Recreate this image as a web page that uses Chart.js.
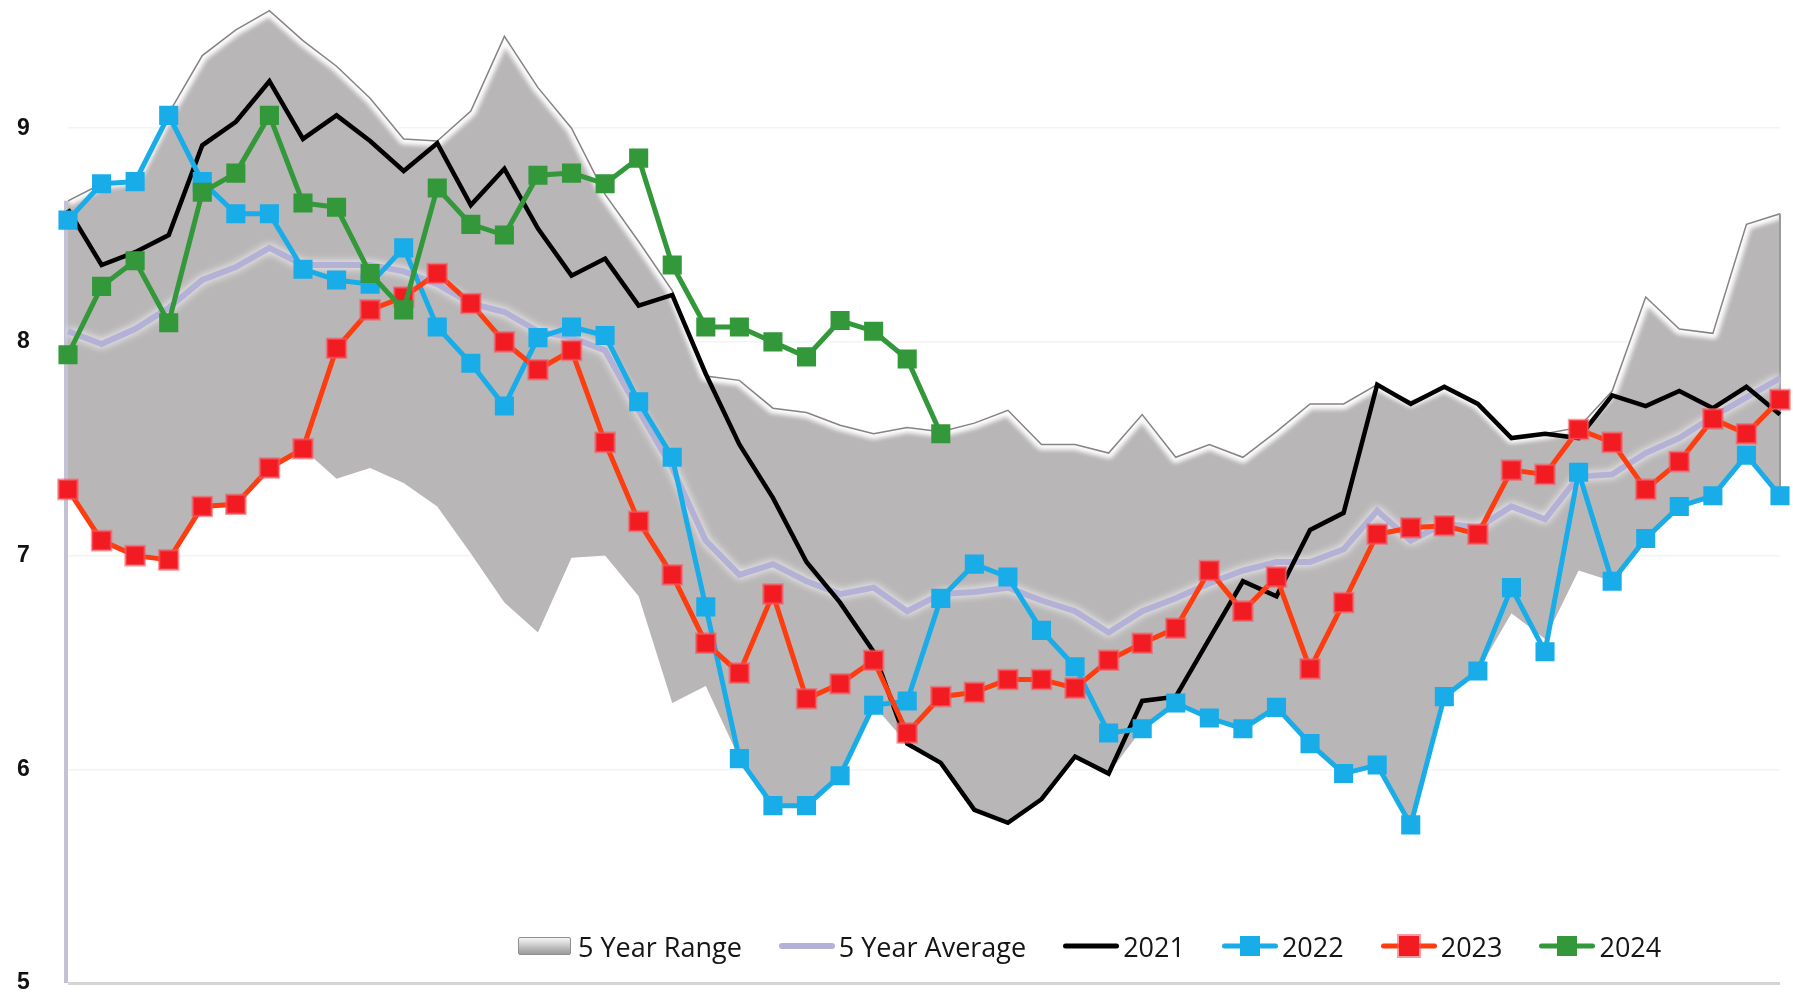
<!DOCTYPE html>
<html>
<head>
<meta charset="utf-8">
<script src="https://cdn.jsdelivr.net/npm/chart.js@4.4.1/dist/chart.umd.min.js"></script>
<style>
  html, body { margin: 0; padding: 0; background: #fff; }
  #wrap { position: relative; width: 1793px; height: 993px; overflow: hidden; }
  #legend {
    position: absolute; left: 518px; top: 926px; height: 40px;
    display: flex; align-items: center;
    font-family: 'Open Sans', sans-serif; font-size: 27px; color: #151515;
  }
  .item { display: flex; align-items: center; margin-right: 37px; }
  .sw { position: relative; width: 56px; height: 22px; margin-right: 4px; }
  .sw .ln { position: absolute; left: 0; right: 0; top: 50%; transform: translateY(-50%); border-radius: 3px; }
  .sw .mk { position: absolute; left: 50%; top: 50%; width: 20px; height: 20px; transform: translate(-50%, -50%); }
  .sw .box {
    position: absolute; left: 0; top: 2px; width: 53px; height: 18px; box-sizing: border-box;
    border: 1px solid #8f8f8f; border-radius: 2px;
    background: linear-gradient(#f4f4f4 0%, #d6d6d6 35%, #b3b3b3 70%, #9c9c9c 100%);
  }
</style>
</head>
<body>
<div id="wrap">
  <canvas id="chart"></canvas>
  <div id="legend"></div>
</div>
<script>
// weekly series, week 1..52
const weeks = [1, 2, 3, 4, 5, 6, 7, 8, 9, 10, 11, 12, 13, 14, 15, 16, 17, 18, 19, 20, 21, 22, 23, 24, 25, 26,
  27, 28, 29, 30, 31, 32, 33, 34, 35, 36, 37, 38, 39, 40, 41, 42, 43, 44, 45, 46, 47, 48, 49, 50, 51, 52];

const yTicks = [5, 6, 7, 8, 9];

const rangeLow = [7.31, 7.07, 7.00, 6.98, 7.23, 7.24, 7.41, 7.50, 7.36, 7.41, 7.34, 7.23, 7.01, 6.78, 6.64, 6.99,
  7.00, 6.81, 6.31, 6.39, 6.05, 5.83, 5.83, 5.97, 6.30, 6.12, 6.03, 5.81, 5.75, 5.86, 6.06, 5.98, 6.19, 6.31,
  6.24, 6.19, 6.29, 6.12, 5.98, 6.02, 5.74, 6.34, 6.46, 6.73, 6.61, 6.93, 6.88, 7.08, 7.23, 7.28, 7.47, 7.28];

const rangeHigh = [8.66, 8.74, 8.76, 9.07, 9.34, 9.46, 9.55, 9.41, 9.29, 9.14, 8.95, 8.94, 9.08, 9.43, 9.19, 9.00,
  8.69, 8.47, 8.24, 7.84, 7.82, 7.69, 7.67, 7.61, 7.57, 7.60, 7.58, 7.62, 7.68, 7.52, 7.52, 7.48, 7.66, 7.46,
  7.52, 7.46, 7.58, 7.71, 7.71, 7.80, 7.72, 7.79, 7.71, 7.55, 7.57, 7.60, 7.77, 8.21, 8.06, 8.04, 8.55, 8.60];

const avg5y = [8.05, 7.99, 8.06, 8.16, 8.29, 8.35, 8.44, 8.36, 8.36, 8.36, 8.33, 8.27, 8.18, 8.14, 8.05, 8.02,
  7.96, 7.68, 7.41, 7.07, 6.91, 6.96, 6.88, 6.82, 6.85, 6.74, 6.82, 6.83, 6.85, 6.79, 6.74, 6.64, 6.74, 6.80,
  6.87, 6.93, 6.97, 6.97, 7.03, 7.21, 7.07, 7.15, 7.13, 7.23, 7.17, 7.37, 7.38, 7.48, 7.55, 7.65, 7.74, 7.83];

const y2021 = [8.62, 8.36, 8.42, 8.50, 8.92, 9.03, 9.22, 8.95, 9.06, 8.94, 8.80, 8.93, 8.64, 8.81, 8.53, 8.31,
  8.39, 8.17, 8.22, 7.85, 7.52, 7.27, 6.97, 6.78, 6.55, 6.12, 6.03, 5.81, 5.75, 5.86, 6.06, 5.98, 6.32, 6.34,
  6.61, 6.88, 6.81, 7.12, 7.20, 7.80, 7.71, 7.79, 7.71, 7.55, 7.57, 7.55, 7.75, 7.70, 7.77, 7.69, 7.79, 7.66];

const y2022 = [8.57, 8.74, 8.75, 9.06, 8.75, 8.60, 8.60, 8.34, 8.29, 8.27, 8.44, 8.07, 7.90, 7.70, 8.02, 8.07,
  8.03, 7.72, 7.46, 6.76, 6.05, 5.83, 5.83, 5.97, 6.30, 6.32, 6.80, 6.96, 6.90, 6.65, 6.48, 6.17, 6.19, 6.31,
  6.24, 6.19, 6.29, 6.12, 5.98, 6.02, 5.74, 6.34, 6.46, 6.85, 6.55, 7.39, 6.88, 7.08, 7.23, 7.28, 7.47, 7.28];

const y2023 = [7.31, 7.07, 7.00, 6.98, 7.23, 7.24, 7.41, 7.50, 7.97, 8.15, 8.21, 8.32, 8.18, 8.00, 7.87, 7.96,
  7.53, 7.16, 6.91, 6.59, 6.45, 6.82, 6.33, 6.40, 6.51, 6.17, 6.34, 6.36, 6.42, 6.42, 6.38, 6.51, 6.59, 6.66,
  6.93, 6.74, 6.90, 6.47, 6.78, 7.10, 7.13, 7.14, 7.10, 7.40, 7.38, 7.59, 7.53, 7.31, 7.44, 7.64, 7.57, 7.73];

const y2024 = [7.94, 8.26, 8.38, 8.09, 8.70, 8.79, 9.06, 8.65, 8.63, 8.32, 8.15, 8.72, 8.55, 8.50, 8.78, 8.79,
  8.74, 8.86, 8.36, 8.07, 8.07, 8.00, 7.93, 8.10, 8.05, 7.92, 7.57];

const RANGE_FILL = '#b9b6b7';
const AVG_COLOR = '#b3b1d6';
const BLUE = '#18ade8';
const RED_LINE = '#fd3c0f';
const RED_MARK = '#f21b22';
const GREEN = '#33983a';

// bevel on the range band: soft white inner edge + thin dark outline along the top
const rangeBevel = {
  id: 'rangeBevel',
  afterDatasetDraw(chart, args) {
    if (args.index !== 1) return;
    const ctx = chart.ctx;
    const hi = chart.getDatasetMeta(1).data;
    const lo = chart.getDatasetMeta(0).data;
    const area = chart.chartArea;

    const topPath = () => {
      ctx.beginPath();
      hi.forEach((p, i) => i ? ctx.lineTo(p.x, p.y) : ctx.moveTo(p.x, p.y));
    };

    ctx.save();
    ctx.beginPath();
    hi.forEach((p, i) => i ? ctx.lineTo(p.x, p.y) : ctx.moveTo(p.x, p.y));
    for (let i = lo.length - 1; i >= 0; i--) ctx.lineTo(lo[i].x, lo[i].y);
    ctx.closePath();
    ctx.clip();
    ctx.filter = 'blur(2px)';
    topPath();
    ctx.strokeStyle = 'rgba(255,255,255,0.95)';
    ctx.lineWidth = 11;
    ctx.lineJoin = 'round';
    ctx.stroke();
    ctx.restore();

    ctx.save();
    topPath();
    ctx.strokeStyle = '#858384';
    ctx.lineWidth = 1.5;
    ctx.stroke();
    // left and right edges of the band
    ctx.beginPath();
    ctx.moveTo(hi[0].x - 2, hi[0].y);
    ctx.lineTo(hi[0].x - 2, area.bottom);
    ctx.strokeStyle = '#c3c2d5';
    ctx.lineWidth = 4;
    ctx.stroke();
    const last = hi.length - 1;
    ctx.beginPath();
    ctx.moveTo(hi[last].x, hi[last].y);
    ctx.lineTo(lo[last].x, lo[last].y);
    ctx.strokeStyle = '#9c9a9b';
    ctx.lineWidth = 2;
    ctx.stroke();
    ctx.restore();
  }
};

// white glow round the 5 year average line
const avgGlow = {
  id: 'avgGlow',
  beforeDatasetDraw(chart, args) {
    if (args.index !== 2) return;
    chart.ctx.save();
    chart.ctx.shadowColor = 'rgba(255,255,255,1)';
    chart.ctx.shadowBlur = 8;
  },
  afterDatasetDraw(chart, args) {
    if (args.index !== 2) return;
    chart.ctx.restore();
  }
};

const markerLine = (label, data, line, mark, border, order) => ({
  label, data, order,
  borderColor: line,
  borderWidth: 5,
  pointStyle: 'rect',
  pointRadius: 13.5,
  pointBackgroundColor: mark,
  pointBorderColor: border,
  pointBorderWidth: border === mark ? 0 : 2.5,
  fill: false,
  tension: 0
});

const chart = new Chart(document.getElementById('chart'), {
  type: 'line',
  data: {
    labels: weeks,
    datasets: [
      { label: 'low', data: rangeLow, borderWidth: 0, pointRadius: 0, fill: false, order: 10, inLegend: false },
      { label: '5 Year Range', data: rangeHigh, borderWidth: 0, pointRadius: 0, fill: '-1',
        backgroundColor: RANGE_FILL, order: 10, swatch: 'box' },
      { label: '5 Year Average', data: avg5y, borderColor: AVG_COLOR, borderWidth: 6, pointRadius: 0,
        fill: false, order: 9, swatch: 'line' },
      { label: '2021', data: y2021, borderColor: '#000000', borderWidth: 4.5, pointRadius: 0,
        fill: false, order: 8, swatch: 'line' },
      Object.assign(markerLine('2022', y2022, BLUE, BLUE, BLUE, 7), { swatch: 'marker' }),
      Object.assign(markerLine('2023', y2023, RED_LINE, RED_MARK, 'rgba(246,92,100,0.6)', 6), { swatch: 'marker' }),
      Object.assign(markerLine('2024', y2024, GREEN, GREEN, GREEN, 5), { swatch: 'marker' })
    ]
  },
  options: {
    responsive: true,
    maintainAspectRatio: false,
    animation: false,
    layout: { autoPadding: false, padding: { top: 0, right: 13, bottom: 10, left: 17 } },
    elements: { line: { borderJoinStyle: 'miter' } },
    plugins: {
      legend: { display: false },
      tooltip: { enabled: false }
    },
    scales: {
      x: { display: false, offset: false },
      y: {
        min: 5,
        max: 9.6,
        afterBuildTicks: scale => { scale.ticks = yTicks.map(v => ({ value: v })); },
        afterFit: scale => {
          scale.width = 51;
          scale.paddingTop = 0;
          scale.paddingBottom = 0;
        },
        border: { display: false },
        grid: {
          drawTicks: false,
          color: c => c.tick && c.tick.value === 5 ? '#d4d4d4' : '#f3f3f3',
          lineWidth: c => c.tick && c.tick.value === 5 ? 3 : 1.5
        },
        ticks: {
          padding: 0,
          crossAlign: 'far',
          color: '#111',
          // tiny line height keeps the scale from padding the plot top/bottom
          font: { family: 'Liberation Sans', weight: 'bold', size: 23, lineHeight: 0.05 }
        }
      }
    }
  },
  plugins: [rangeBevel, avgGlow]
});

// legend drawn as html under the plot, from the dataset list
const legend = document.getElementById('legend');
chart.data.datasets.filter(ds => ds.inLegend !== false).forEach(ds => {
  const item = document.createElement('div');
  item.className = 'item';
  const sw = document.createElement('div');
  sw.className = 'sw';
  if (ds.swatch === 'box') {
    const b = document.createElement('div');
    b.className = 'box';
    sw.appendChild(b);
  } else {
    const ln = document.createElement('div');
    ln.className = 'ln';
    ln.style.height = (ds.label === '5 Year Average' ? 6 : 5) + 'px';
    ln.style.background = ds.borderColor;
    if (ds.label === '5 Year Average') ln.style.boxShadow = '0 0 3px #fff';
    sw.appendChild(ln);
    if (ds.swatch === 'marker') {
      const mk = document.createElement('div');
      mk.className = 'mk';
      mk.style.background = ds.pointBackgroundColor;
      if (ds.pointBorderWidth) mk.style.boxShadow = '0 0 0 2px ' + ds.pointBorderColor;
      sw.appendChild(mk);
    }
  }
  const txt = document.createElement('span');
  txt.textContent = ds.label;
  item.appendChild(sw);
  item.appendChild(txt);
  legend.appendChild(item);
});
</script>
</body>
</html>
